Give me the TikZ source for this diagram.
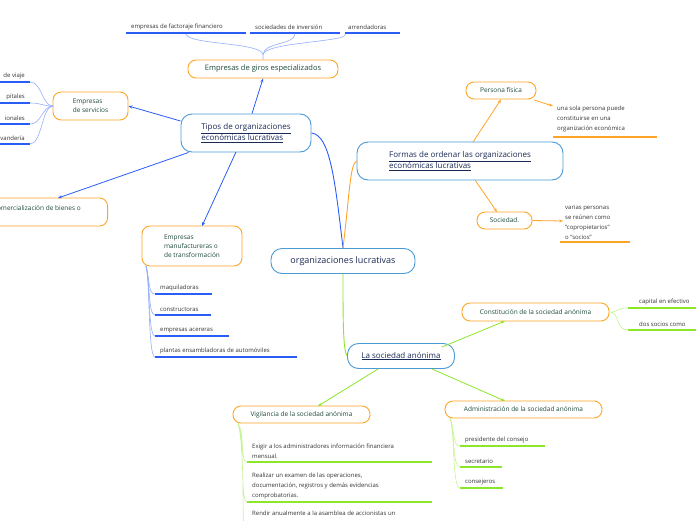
\documentclass[tikz,border=0pt]{standalone}
\usepackage{fontspec}
\setmainfont{Open Sans}
\usetikzlibrary{arrows.meta}
\definecolor{bb}{HTML}{4A9AD6}
\definecolor{oo}{HTML}{FFA526}
\definecolor{gg}{HTML}{8CE62A}
\definecolor{bl}{HTML}{2A5DF5}
\definecolor{tg}{HTML}{1D4A3A}
\definecolor{tn}{HTML}{1B2A55}
\begin{document}
\begin{tikzpicture}[x=1pt,y=-1pt,
 main/.style={draw=bb,line width=0.9pt,rounded corners=11pt,fill=white,text=tn,font=\fontsize{8}{11}\selectfont,align=left},
 sub/.style={draw=oo,line width=0.9pt,rounded corners=8pt,fill=white,text=tg,font=\fontsize{6.5}{9}\selectfont,align=left},
 leaf/.style={font=\fontsize{6}{8}\selectfont,text=black!80,align=left,inner sep=0pt},
 ba/.style={draw=bl,line width=0.8pt,-{Stealth[length=4pt]}},
 oa/.style={draw=oo,line width=0.8pt,-{Stealth[length=4pt]}},
 ga/.style={draw=gg,line width=0.8pt,-{Stealth[length=4pt]}}]
\useasboundingbox (0,0) rectangle (696,520);
% main nodes
\node[main,minimum width=144pt,minimum height=25pt,font=\fontsize{9}{11}\selectfont] (c) at (343,261) {organizaciones lucrativas};
\node[main,minimum width=130pt,minimum height=38pt] (t) at (246,133) {\underline{Tipos de organizaciones}\\\underline{económicas lucrativas}};
\node[main,minimum width=206pt,minimum height=38pt] (f) at (460,161) {\underline{Formas de ordenar las organizaciones}\\\underline{económicas lucrativas}};
\node[main,minimum width=107pt,minimum height=25pt] (s) at (401,356) {\underline{La sociedad anónima}};
% sub nodes
\node[sub,minimum width=150pt,minimum height=18pt,font=\fontsize{7.5}{9}\selectfont] (g) at (263,69) {Empresas de giros especializados};
\node[sub,minimum width=75pt,minimum height=28pt] (sv) at (90.5,106) {Empresas\\de servicios};
\node[sub,minimum width=218pt,minimum height=28pt,anchor=east] (cm) at (108,212) {};
\node[leaf,text=tg,font=\fontsize{6.5}{9}\selectfont,anchor=east] (cmt) at (81,209) {Empresas de comercialización de bienes o};
\node[sub,minimum width=100pt,minimum height=40pt] (mf) at (192,246) {Empresas\\manufactureras o\\de transformación};
\node[sub,minimum width=70pt,minimum height=17pt] (pf) at (501,90.5) {Persona física};
\node[sub,minimum width=55pt,minimum height=17pt] (so) at (504.5,220.5) {Sociedad.};
\node[sub,minimum width=147pt,minimum height=18pt] (co) at (535.5,312) {Constitución de la sociedad anónima};
\node[sub,minimum width=137pt,minimum height=17pt] (vi) at (301.5,414.5) {Vigilancia de la sociedad anónima};
\node[sub,minimum width=157pt,minimum height=17pt] (ad) at (523.5,409.5) {Administración de la sociedad anónima};
% main connectors
\draw[bl,line width=0.9pt] (c.north) .. controls (335,180) and (330,135) .. (t.east);
\draw[oo,line width=0.9pt] (c.north) .. controls (350,190) and (350,165) .. (f.west);
\draw[gg,line width=0.9pt] (c.south) .. controls (343,320) and (343,350) .. (s.west);
% arrows
\draw[ba] (t.north) ++(6,0) -- (g.south);
\draw[ba] (t.west) ++(0,-12) -- (sv.east);
\draw[ba] (t.south west) ++(8,0) -- (58,198);
\draw[ba] (236,152) -- (202,226);
\draw[oa] (473,142) -- (pf.south);
\draw[oa] (475,180) -- (497,212);
\draw[oa] (534,100) -- (553,106);
\draw[oa] (so.east) -- (563,221);
\draw[ga] (442,347) -- (505,321);
\draw[ga] (378,369) -- (318,406);
\draw[ga] (432,369) -- (505,401);
% top leaves
\coordinate (gt) at (263,55);
\node[leaf,anchor=south west] (l1) at (131,30) {empresas de factoraje financiero};
\node[leaf,anchor=south west] (l2) at (255,30) {sociedades de inversión};
\node[leaf,anchor=south west] (l3) at (348,30) {arrendadoras};
\draw[bl,line width=1.2pt] (126,33)--(246,33) (250,33)--(340,33) (345,33)--(400,33);
\draw[bl!50,line width=0.6pt] (gt) -- (g.north) (gt) .. controls (263,42) and (188,45) .. (186,34) (gt) .. controls (263,42) and (295,45) .. (295,34) (gt) .. controls (263,42) and (350,42) .. (345,34);
% services leaves
\foreach \t/\y in {de viaje/82,pitales/103,ionales/124,vandería/144}{
 \node[leaf,anchor=south east] at (25,\y-3) {\t};
 \draw[bl,line width=1.2pt] (0,\y)--(30,\y);
 \draw[bl!50,line width=0.6pt] (53,106) .. controls (42,106) and (42,\y) .. (30,\y);
}
% manufact leaves
\foreach \t/\y/\e in {maquiladoras/294/212,constructoras/315/211,empresas acereras/336/229,plantas ensambladoras de automóviles/357/297}{
 \node[leaf,anchor=south west] at (160,\y-3) {\t};
 \draw[bl,line width=1.2pt] (155,\y)--(\e,\y);
 \draw[bl!50,line width=0.6pt] (146,266) .. controls (150,280) and (148,\y) .. (155,\y);
}
% persona
\node[leaf,anchor=north west,font=\fontsize{6}{10}\selectfont] (pt) at (557,106) {una sola persona puede\\constituirse en una\\organización económica};
\draw[oo,line width=1.2pt] (553,137)--(657,137);
\node[leaf,anchor=north west,font=\fontsize{6}{10}\selectfont] (st) at (565,205) {varias personas\\se reúnen como\\“copropietarios”\\o “socios”};
\draw[oo,line width=1.2pt] (560,242)--(630,242);
% constitucion leaves
\node[leaf,anchor=south west] at (639,305) {capital en efectivo};
\node[leaf,anchor=south west] at (639,327) {dos socios como};
\draw[gg,line width=1.2pt] (628,308)--(696,308) (628,330)--(696,330);
\draw[gg!50,line width=0.6pt] (co.east) .. controls (620,312) and (615,308) .. (628,308) (co.east) .. controls (620,312) and (615,330) .. (628,330);
% administracion leaves
\foreach \t/\y/\e in {presidente del consejo/446/545,secretario/467/502,consejeros/488/503}{
 \node[leaf,anchor=south west] at (465,\y-3) {\t};
 \draw[gg,line width=1.2pt] (460,\y)--(\e,\y);
 \draw[gg!50,line width=0.6pt] (450,418) .. controls (455,430) and (452,\y) .. (460,\y);
}
% vigilancia leaves
\node[leaf,anchor=south west,font=\fontsize{6}{10}\selectfont] at (252,459) {Exigir a los administradores información financiera\\mensual.};
\node[leaf,anchor=south west,font=\fontsize{6}{10}\selectfont] at (252,499) {Realizar un examen de las operaciones,\\documentación, registros y demás evidencias\\comprobatorias.};
\node[leaf,anchor=north west,font=\fontsize{6}{10}\selectfont] at (252,511) {Rendir anualmente a la asamblea de accionistas un};
\draw[gg,line width=1.2pt] (247,462)--(432,462) (247,502)--(432,502);
\draw[gg!50,line width=0.6pt] (238,423) .. controls (245,435) and (240,462) .. (247,462) (238,423) .. controls (245,440) and (240,502) .. (247,502) (238,423) .. controls (245,450) and (242,520) .. (244,525);
\end{tikzpicture}
\end{document}
